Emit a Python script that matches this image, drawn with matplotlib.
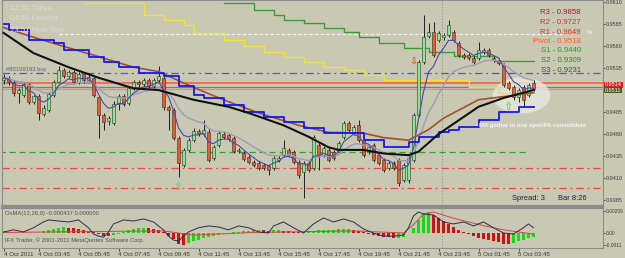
import matplotlib.pyplot as plt
from matplotlib.patches import Ellipse
import numpy as np
import pandas as pd

# M15 candles
opens = [0.9521, 0.9524, 0.9519, 0.9507, 0.9504, 0.9517, 0.9496, 0.9503, 0.9483, 0.9487,
         0.9504, 0.9519, 0.9533, 0.9526, 0.9531, 0.9519, 0.9528, 0.9521, 0.9524, 0.9502,
         0.9482, 0.9475, 0.9473, 0.9494, 0.9503, 0.9495, 0.9512, 0.9519, 0.9517, 0.9521,
         0.9515, 0.9521, 0.9524, 0.9491, 0.9487, 0.9456, 0.9425, 0.9442, 0.9453, 0.9463,
         0.9460, 0.9462, 0.9433, 0.9448, 0.9460, 0.9459, 0.9456, 0.9441, 0.9438, 0.9434,
         0.9428, 0.9427, 0.9425, 0.9424, 0.9421, 0.9431, 0.9436, 0.9442, 0.9440, 0.9428,
         0.9417, 0.9427, 0.9421, 0.9448, 0.9436, 0.9442, 0.9440, 0.9440, 0.9457, 0.9473,
         0.9461, 0.9470, 0.9453, 0.9440, 0.9448, 0.9436, 0.9431, 0.9421, 0.9427, 0.9431,
         0.9408, 0.9408, 0.9431, 0.9482, 0.9542, 0.9571, 0.9576, 0.9567, 0.9570, 0.9573,
         0.9576, 0.9564, 0.9550, 0.9550, 0.9546, 0.9546, 0.9553, 0.9556, 0.9546, 0.9544,
         0.9539, 0.9518, 0.9513, 0.9502, 0.9513, 0.9504, 0.9518]
closes = [0.9524, 0.9519, 0.9507, 0.9510, 0.9517, 0.9496, 0.9503, 0.9484, 0.9490, 0.9506,
          0.9519, 0.9533, 0.9526, 0.9531, 0.9519, 0.9528, 0.9521, 0.9525, 0.9504, 0.9482,
          0.9474, 0.9478, 0.9494, 0.9503, 0.9494, 0.9512, 0.9519, 0.9517, 0.9521, 0.9515,
          0.9521, 0.9526, 0.9491, 0.9487, 0.9456, 0.9427, 0.9442, 0.9453, 0.9463, 0.9460,
          0.9465, 0.9431, 0.9445, 0.9461, 0.9457, 0.9454, 0.9441, 0.9442, 0.9432, 0.9428,
          0.9425, 0.9421, 0.9421, 0.9419, 0.9433, 0.9433, 0.9444, 0.9436, 0.9428, 0.9413,
          0.9427, 0.9419, 0.9457, 0.9436, 0.9444, 0.9431, 0.9433, 0.9450, 0.9473, 0.9465,
          0.9468, 0.9453, 0.9436, 0.9445, 0.9431, 0.9427, 0.9419, 0.9427, 0.9421, 0.9404,
          0.9425, 0.9433, 0.9482, 0.9542, 0.9570, 0.9576, 0.9550, 0.9575, 0.9573, 0.9584,
          0.9567, 0.9550, 0.9548, 0.9546, 0.9542, 0.9556, 0.9556, 0.9550, 0.9544, 0.9541,
          0.9516, 0.9512, 0.9502, 0.9510, 0.9499, 0.9516, 0.9511]
highs = [0.9528, 0.9526, 0.9521, 0.9512, 0.9519, 0.9518, 0.9504, 0.9506, 0.9493, 0.9508,
         0.9521, 0.9537, 0.9535, 0.9533, 0.9533, 0.9531, 0.9531, 0.9527, 0.9525, 0.9504,
         0.9484, 0.9481, 0.9498, 0.9506, 0.9506, 0.9515, 0.9521, 0.9521, 0.9524, 0.9524,
         0.9524, 0.9537, 0.9526, 0.9493, 0.9490, 0.9458, 0.9444, 0.9456, 0.9467, 0.9466,
         0.9476, 0.9467, 0.9448, 0.9463, 0.9463, 0.9461, 0.9458, 0.9444, 0.9441, 0.9436,
         0.9431, 0.9429, 0.9427, 0.9426, 0.9435, 0.9435, 0.9453, 0.9444, 0.9442, 0.9431,
         0.9429, 0.9429, 0.9459, 0.9450, 0.9446, 0.9444, 0.9442, 0.9452, 0.9475, 0.9475,
         0.9470, 0.9476, 0.9456, 0.9448, 0.9450, 0.9438, 0.9433, 0.9429, 0.9429, 0.9433,
         0.9427, 0.9435, 0.9484, 0.9544, 0.9595, 0.9586, 0.9587, 0.9577, 0.9575, 0.9590,
         0.9578, 0.9566, 0.9552, 0.9552, 0.9549, 0.9565, 0.9558, 0.9558, 0.9549, 0.9546,
         0.9541, 0.9520, 0.9516, 0.9512, 0.9516, 0.9518, 0.9521]
lows = [0.9517, 0.9516, 0.9503, 0.9495, 0.9502, 0.9494, 0.9494, 0.9476, 0.9481, 0.9485,
        0.9502, 0.9518, 0.9524, 0.9524, 0.9517, 0.9517, 0.9518, 0.9519, 0.9502, 0.9456,
        0.9465, 0.9470, 0.9470, 0.9487, 0.9492, 0.9493, 0.9510, 0.9513, 0.9515, 0.9512,
        0.9512, 0.9519, 0.9487, 0.9465, 0.9453, 0.9411, 0.9423, 0.9440, 0.9451, 0.9458,
        0.9458, 0.9428, 0.9431, 0.9445, 0.9454, 0.9452, 0.9438, 0.9438, 0.9429, 0.9426,
        0.9423, 0.9419, 0.9419, 0.9413, 0.9419, 0.9428, 0.9434, 0.9434, 0.9426, 0.9410,
        0.9387, 0.9417, 0.9419, 0.9419, 0.9434, 0.9428, 0.9431, 0.9437, 0.9454, 0.9462,
        0.9459, 0.9451, 0.9434, 0.9437, 0.9428, 0.9425, 0.9417, 0.9419, 0.9419, 0.9401,
        0.9406, 0.9404, 0.9428, 0.9479, 0.9540, 0.9569, 0.9548, 0.9565, 0.9567, 0.9570,
        0.9565, 0.9548, 0.9545, 0.9544, 0.9540, 0.9544, 0.9551, 0.9548, 0.9542, 0.9539,
        0.9513, 0.9510, 0.9499, 0.9496, 0.9492, 0.9502, 0.9509]

# slow moving averages (bar index, value)
black_idx = [0, 6, 13, 19, 26, 31, 38, 45, 49, 56, 61, 65, 67, 72, 76, 81, 83, 87, 95, 100, 106]
black_val = [0.9575, 0.9552, 0.9536, 0.9524, 0.9512, 0.9510, 0.9499, 0.9491, 0.9484, 0.9470, 0.9457,
             0.9445, 0.9442, 0.9442, 0.9438, 0.9436, 0.9440, 0.9460, 0.9491, 0.9501, 0.9510]
brown_idx = [0, 6, 13, 19, 26, 31, 38, 44, 51, 59, 65, 72, 76, 81, 85, 88, 95, 102, 106]
brown_val = [0.9581, 0.9570, 0.9558, 0.9548, 0.9536, 0.9531, 0.9513, 0.9499, 0.9484, 0.9470, 0.9462,
             0.9461, 0.9456, 0.9453, 0.9465, 0.9478, 0.9499, 0.9504, 0.9507]
# step lines
blue_idx = [0, 1, 5, 10, 12, 17, 20, 23, 27, 32, 35, 38, 40, 44, 48, 52, 56, 60, 64, 72, 76, 81, 83,
            87, 89, 91, 95, 99, 103, 106]
blue_val = [0.9585, 0.9578, 0.9567, 0.9564, 0.9556, 0.9548, 0.9542, 0.9536, 0.9529, 0.9526, 0.9515,
            0.9504, 0.9501, 0.9493, 0.9485, 0.9479, 0.9474, 0.9467, 0.9461, 0.9453, 0.9445, 0.9451,
            0.9457, 0.9462, 0.9465, 0.9468, 0.9476, 0.9485, 0.9491, 0.9491]
yellow_idx = [16, 28, 32, 36, 38, 44, 48, 52, 56, 60, 64, 68, 72, 76, 93, 99, 106]
yellow_val = [0.9609, 0.9595, 0.9590, 0.9584, 0.9575, 0.9567, 0.9560, 0.9553, 0.9548, 0.9542, 0.9536,
              0.9533, 0.9527, 0.9521, 0.9513, 0.9507, 0.9507]
green_idx = [44, 50, 54, 56, 60, 64, 68, 71, 75, 80, 85, 90, 98, 106]
green_val = [0.9609, 0.9601, 0.9595, 0.9590, 0.9586, 0.9581, 0.9576, 0.9570, 0.9564, 0.9558, 0.9553,
             0.9549, 0.9543, 0.9543]

# OsMA histogram (x 1e-4) and oscillator lines
osma = np.array([0.5, 0.3, 0.1, -0.2, -0.3, -0.2, 0.0, 0.3,
                 1.5, 3.0, 4.0, 5.0, 5.5,
                 5.0, 4.5, 4.0, 3.0, 2.0,
                 0.5, -1.0, -2.5, -3.0, -2.0,
                 -0.5, 1.0, 2.5, 3.5, 4.5, 5.0, 4.5,
                 4.0, 3.0,
                 0.5, -3.0, -6.0, -10.5, -11.0,
                 -9.5, -8.0, -6.5, -5.0,
                 -4.0, -3.0, -2.0, -1.0, -0.5,
                 0.5, 1.0, 1.5, 2.0, 2.5, 2.8, 2.5,
                 2.2, 2.5, 2.5, 2.0, 1.5, 1.0, 0.5,
                 1.0, 1.5, 2.0, 2.5, 3.0, 3.0, 3.2, 3.5, 3.8, 4.0,
                 3.0, 1.5, 0.5, -1.0, -2.0, -3.0, -3.5, -4.0, -4.5, -4.5, -4.0,
                 0.0, 5.0, 12.0, 19.0,
                 20.0, 17.0, 14.0, 11.0, 9.0, 6.0, 3.0,
                 1.0, -1.0, -3.0, -4.5, -6.0, -7.0, -8.0,
                 -9.0, -10.0, -10.5, -9.5,
                 -8.0, -6.5, -5.0, -4.0]) * 1e-4
navy_idx = [0, 2, 4, 6, 8, 9, 11, 13, 15, 16, 17, 18, 19, 20, 21, 22, 24, 26, 28, 30, 31, 32, 33, 34,
            35, 36, 37, 39, 41, 43, 45, 47, 49, 51, 53, 54, 56, 58, 60, 62, 64, 66, 68, 70, 72, 74,
            76, 78, 80, 81, 82, 83, 84, 86, 88, 90, 92, 94, 96, 98, 100, 102, 104, 105, 106]
navy_val = [0.0001, 0.0003, 0.0001, 0.0005, 0.00105, 0.00124, 0.00114, 0.00105, 0.00124, 0.00086,
            0.0005, -0.0001, -0.0003, -0.0004, 0.0001, 0.00086, 0.00124, 0.00114, 0.00133, 0.00105,
            0.00067, 0.0003, -0.0003, -0.00067, -0.00076, -0.0003, 0.0001, 0.0005, 0.00067, 0.00057,
            0.0003, 0.00067, 0.0005, 0.0001, 0.0, 0.00067, 0.00105, 0.0005, 0.0, 0.00086, 0.00143,
            0.00105, 0.00133, 0.00105, 0.00038, 0.0, -0.0003, -0.0003, -0.00019, 0.0005, 0.00162,
            0.0020, 0.0018, 0.00171, 0.00105, 0.00086, 0.00105, 0.00067, 0.00105, 0.0005, 0.0,
            -0.0001, 0.0005, 0.00086, 0.0005]
sig_idx = [0, 20, 32, 38, 50, 70, 80, 82, 84, 86, 90, 96, 100, 106]
sig_val = [0.00005, 0.00015, 0.0002, -0.0002, 0.00005, 0.0002, 0.0, 0.0008, 0.0018, 0.002, 0.0014,
           0.0007, 0.0003, -0.0001]

# levels and marks
levels = {'r1': 0.9574, 'order': 0.9529, 'pivot': 0.9518, 'ask': 0.9514, 'bid': 0.9511,
          's1': 0.9440, 'lo1': 0.9421, 'lo2': 0.9399}
up_arrow_idx, up_arrow_val = [35, 101], [0.9400, 0.9491]
dn_arrow_idx, dn_arrow_val = [82], [0.9544]
price_ticks = [0.9610, 0.9585, 0.9560, 0.9535, 0.9485, 0.9460, 0.9435, 0.9410, 0.9385]
time_idx = [0, 7, 15, 23, 31, 39, 47, 55, 63, 71, 79, 87, 95, 103]
time_lab = ['4 Oct 2011', '4 Oct 03:45', '4 Oct 05:45', '4 Oct 07:45', '4 Oct 09:45', '4 Oct 11:45',
            '4 Oct 13:45', '4 Oct 15:45', '4 Oct 17:45', '4 Oct 19:45', '4 Oct 21:45', '4 Oct 23:45',
            '5 Oct 01:45', '5 Oct 03:45']
pivots = [('R3 - 0.9858', '#a01c34'), ('R2 - 0.9727', '#e0283c'), ('R1 - 0.9649', '#f02828'),
          ('Pivot - 0.9518', '#ff5a20'), ('S1 - 0.9440', '#2c9a2c'), ('S2 - 0.9309', '#2a8a2a'),
          ('S3 - 0.9231', '#1c6a1c')]

plt.rcParams['font.family'] = ['Liberation Sans', 'DejaVu Sans']
W, H = 625, 258
BG = '#c9c9b3'
fig = plt.figure(figsize=(W / 100, H / 100), dpi=100, facecolor=BG)
ax = fig.add_axes([2 / W, 52 / H, 601 / W, 206 / H], facecolor=BG)
ax2 = fig.add_axes([2 / W, 10 / H, 601 / W, 40 / H], facecolor=BG)

def ftext(xp, yp, s, **kw):
    fig.text(xp / W, 1 - yp / H, s, va='center', **kw)

x = np.arange(len(closes))
o, c, h, l = map(np.array, (opens, closes, highs, lows))
up = c >= o

# level lines
ax.axhline(levels['order'], color='#4656e6', lw=0.9, ls=(0, (6, 3, 1.5, 3)), zorder=1)
ax.axhline(levels['pivot'], color='#f07050', lw=1.4, zorder=1)
ax.axhline(levels['ask'], color='#e45050', lw=0.9, zorder=1)
ax.axhline(levels['bid'], color='#a8a8a0', lw=0.9, zorder=1)
ax.plot([11, 112], [levels['r1']] * 2, color='#f4f4f0', lw=0.8, ls=(0, (3, 2)), zorder=1)
ax.plot([-1, 105], [levels['s1']] * 2, color='#3a9a3a', lw=0.9, ls=(0, (5, 3)), zorder=1)
for k in ('lo1', 'lo2'):
    ax.axhline(levels[k], color='#e84848', lw=0.9, ls=(0, (6, 3, 1.5, 3)), zorder=1)
ax.axvline(87.6, color='#8a8a8a', lw=0.7, ls=(0, (1, 2)), zorder=1)
ax2.axvline(87.6, color='#8a8a8a', lw=0.7, ls=(0, (1, 2)), zorder=1)

ax.add_patch(Ellipse((103.6, 0.9504), 11.5, 0.0041, facecolor='#e8e8e0', edgecolor='none',
                     alpha=0.8, zorder=2))

# step lines
ax.plot(yellow_idx, yellow_val, drawstyle='steps-post', color='#f0e040', lw=1.0, zorder=2)
ax.plot(green_idx, green_val, drawstyle='steps-post', color='#3c9a3c', lw=1.0, zorder=2)

# candles
ax.vlines(x, l, h, color='#202020', lw=0.7, zorder=3)
ax.bar(x[up], (c - o)[up], bottom=o[up], width=0.62, color='#88e888', edgecolor='#303030', lw=0.4, zorder=4)
ax.bar(x[~up], (c - o)[~up], bottom=o[~up], width=0.62, color='#ec5a2c', edgecolor='#303030', lw=0.4, zorder=4)

# moving averages
ema_fast = pd.Series(closes).ewm(span=5, adjust=False).mean()
ema_mid = pd.Series(closes).ewm(span=13, adjust=False).mean()
ax.plot(x, ema_mid, color='#9c9cb6', lw=1.0, zorder=5)
ax.plot(x, ema_fast, color='#4a4aa8', lw=0.8, zorder=5)
ax.plot(brown_idx, brown_val, color='#a0502c', lw=1.2, zorder=5)
ax.plot(blue_idx, blue_val, drawstyle='steps-post', color='#1818f0', lw=1.3, zorder=5)
ax.plot(black_idx, black_val, color='#111111', lw=1.5, zorder=5)

for i, v in zip(up_arrow_idx, up_arrow_val):
    ax.text(i, v, '\u21e7', color='#58d858', fontsize=8, ha='center', va='center', zorder=6,
            family=['DejaVu Sans'], fontweight='bold')
for i, v in zip(dn_arrow_idx, dn_arrow_val):
    ax.text(i, v, '\u21e9', color='#f05030', fontsize=7, ha='center', va='center', zorder=6,
            family=['DejaVu Sans'], fontweight='bold')

ax.set_xlim(-0.3, 119.9)
ax.set_ylim(0.93783, 0.96123)
ax.yaxis.tick_right()
ax.set_yticks(price_ticks)
ax.set_yticklabels(['%.4f' % t for t in price_ticks])
ax.tick_params(axis='y', length=1.5, pad=0.6, labelsize=4.0, colors='#3c3c3c', width=0.6)
ax.tick_params(axis='x', bottom=False, labelbottom=False)
for s in ax.spines.values():
    s.set_color('#8c8c8c')
    s.set_linewidth(0.8)
ax.spines['bottom'].set_linewidth(1.6)

# OsMA panel
cols = ['#18d818' if i == 0 or osma[i] >= osma[i - 1] else '#c81414' for i in range(len(osma))]
ax2.bar(x, osma, width=0.55, color=cols, zorder=3)
ax2.plot(sig_idx, sig_val, color='#e04040', lw=0.7, zorder=4)
ax2.plot(navy_idx, navy_val, color='#2a2a5a', lw=0.7, zorder=4)
ax2.set_xlim(-0.3, 119.9)
ax2.set_ylim(-0.001425, 0.002375)
ax2.yaxis.tick_right()
ax2.set_yticks([0.00209, 0.0, -0.0011])
ax2.set_yticklabels(['0.00209', '0.00', '-0.0011'])
ax2.tick_params(axis='y', length=1.5, pad=0.6, labelsize=3.5, colors='#3c3c3c', width=0.6)
ax2.set_xticks(time_idx)
ax2.set_xticklabels(time_lab, ha='left')
ax2.tick_params(axis='x', length=2, pad=1, labelsize=4.4, colors='#3c3c3c', width=0.6)
for s in ax2.spines.values():
    s.set_color('#8c8c8c')
    s.set_linewidth(0.8)
ax2.spines['top'].set_linewidth(1.6)

# texts
ftext(10, 8, '12:51 Tokyo', color='#dadad4', fontsize=5.6)
ftext(10, 19, '04:51 London', color='#dadad4', fontsize=5.6)
ftext(10, 30, '23:51 New York', color='#dadad4', fontsize=5.6)
ftext(6, 69, '#80159193 buy', color='#606070', fontsize=4.2)
for k, (s, col) in enumerate(pivots):
    ftext(581, 13 + 9.5 * k, s, color=col, fontsize=5.6, ha='right')
ftext(586, 32, 'Str', color='#ececec', fontsize=4.4)
ftext(533, 125, 'MA gather in one spot/PA consolidate', color='#f4f4f4', fontsize=4.3,
      ha='center', fontweight='bold')
ftext(512, 199, 'Spread: 3', color='#1c1c44', fontsize=5.4)
ftext(558, 199, 'Bar 8:26', color='#1c1c44', fontsize=5.4)
ftext(605, 85, '0.9514', color='#ffffff', fontsize=4.0,
      bbox=dict(boxstyle='square,pad=0.15', fc='#e02020', ec='none'))
ftext(605, 90, '0.9511', color='#ffffff', fontsize=4.0,
      bbox=dict(boxstyle='square,pad=0.15', fc='#4e5a24', ec='none'))
ftext(5, 213, 'OsMA(12,26,9) -0.000437 0.000000', color='#505050', fontsize=4.2)
ftext(5, 240, 'IFX Trader, \u00a9 2001-2011 MetaQuotes Software Corp.', color='#505050', fontsize=4.2)

fig.savefig('out.png', dpi=100, facecolor=BG)
